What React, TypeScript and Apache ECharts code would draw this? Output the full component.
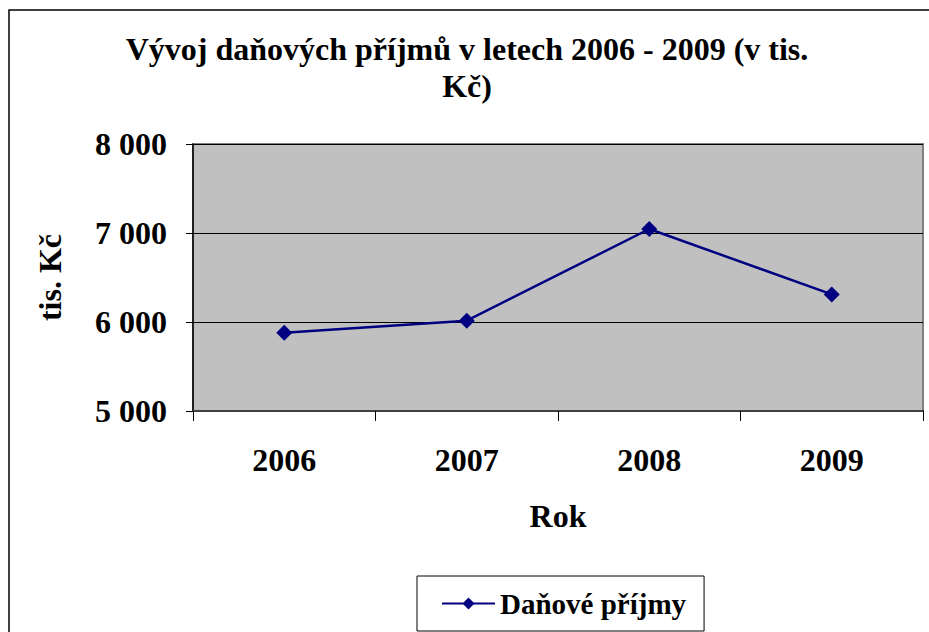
import React, { useEffect, useRef } from "react";
import * as echarts from "echarts";

const titleText = "Vývoj daňových příjmů v letech 2006 - 2009 (v tis.\nKč)";
const categories = ["2006", "2007", "2008", "2009"];
const seriesName = "Daňové příjmy";
const values = [5880, 6015, 7045, 6310];
const yMin = 5000;
const yMax = 8000;
const yInterval = 1000;

const FONT = "'Liberation Serif', 'Times New Roman', serif";

export default function App() {
  const ref = useRef<HTMLDivElement>(null);
  useEffect(() => {
    if (!ref.current) return;
    const chart = echarts.init(ref.current, undefined, { renderer: "svg" });
    chart.setOption({
      animation: false,
      backgroundColor: "#ffffff",
      title: {
        text: titleText,
        left: 462,
        textAlign: "center",
        top: 25,
        textStyle: {
          fontFamily: FONT,
          fontWeight: "bold",
          fontSize: 32,
          lineHeight: 37,
          color: "#000",
        },
      },
      graphic: [
        {
          type: "rect",
          shape: { x: 9, y: 10, width: 940, height: 640 },
          style: { fill: "none", stroke: "#000", lineWidth: 1.5 },
          z: -1,
        },
      ],
      grid: {
        left: 193,
        top: 144,
        width: 730,
        height: 267,
        show: true,
        backgroundColor: "#C0C0C0",
        borderColor: "#808080",
        borderWidth: 2,
      },
      legend: {
        left: 417,
        top: 576,
        padding: [13, 18, 13, 24],
        borderColor: "#000",
        borderWidth: 1,
        itemWidth: 53,
        itemHeight: 15,
        itemGap: 6,
        textStyle: {
          fontFamily: FONT,
          fontWeight: "bold",
          fontSize: 29,
          color: "#000",
        },
        data: [seriesName],
      },
      xAxis: {
        type: "category",
        data: categories,
        boundaryGap: true,
        name: "Rok",
        nameLocation: "middle",
        nameGap: 89,
        nameTextStyle: {
          fontFamily: FONT,
          fontWeight: "bold",
          fontSize: 32,
          color: "#000",
        },
        axisLine: { lineStyle: { color: "#404040", width: 2 } },
        axisTick: { show: true, length: 10, lineStyle: { color: "#000" } },
        axisLabel: {
          margin: 33,
          fontFamily: FONT,
          fontWeight: "bold",
          fontSize: 32,
          color: "#000",
        },
        splitLine: { show: false },
      },
      yAxis: {
        type: "value",
        min: yMin,
        max: yMax,
        interval: yInterval,
        name: "tis. Kč",
        nameLocation: "middle",
        nameRotate: 90,
        nameGap: 127,
        nameTextStyle: {
          fontFamily: FONT,
          fontWeight: "bold",
          fontSize: 32,
          color: "#000",
        },
        axisLine: { show: true, lineStyle: { color: "#000", width: 1.5 } },
        axisTick: { show: true, length: 7, lineStyle: { color: "#000" } },
        axisLabel: {
          margin: 26,
          fontFamily: FONT,
          fontWeight: "bold",
          fontSize: 32,
          color: "#000",
          formatter: (v: number) => {
            const s = String(v);
            return s.replace(/\B(?=(\d{3})+(?!\d))/g, " ");
          },
        },
        splitLine: { show: true, lineStyle: { color: "#000", width: 1 } },
      },
      series: [
        {
          name: seriesName,
          type: "line",
          data: values,
          symbol: "diamond",
          symbolSize: 16,
          color: "#000080",
          lineStyle: { color: "#000080", width: 2.5 },
          itemStyle: { color: "#000080" },
        },
      ],
    });
    return () => chart.dispose();
  }, []);
  return (
    <div
      ref={ref}
      style={{ position: "fixed", left: 0, top: 0, width: 929, height: 632 }}
    />
  );
}
